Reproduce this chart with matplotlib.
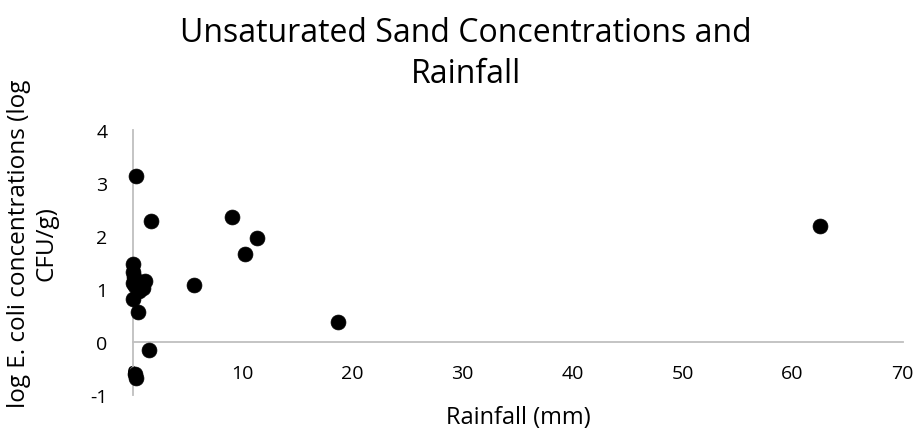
import matplotlib.pyplot as plt

plt.rcParams['font.family'] = ['Open Sans', 'DejaVu Sans']
plt.rcParams['axes.unicode_minus'] = False

# rainfall (mm) and log E. coli (log CFU/g)
rainfall = [0.3, 1.7, 9.0, 11.3, 10.2, 5.6, 62.5,
            0.05, 0.0, 0.1, 0.0, 0.2, 0.6, 0.9, 1.1, 0.0, 0.5,
            18.7, 1.5, 0.2, 0.35]
log_ecoli = [3.14, 2.29, 2.35, 1.97, 1.66, 1.08, 2.19,
             1.47, 1.33, 1.22, 1.12, 1.05, 0.97, 1.02, 1.16, 0.82, 0.56,
             0.37, -0.15, -0.60, -0.67]

x_ticks = [0, 10, 20, 30, 40, 50, 60, 70]
y_ticks = [-1, 0, 1, 2, 3, 4]

fig = plt.figure(figsize=(9.21, 4.31), dpi=100)
ax = fig.add_axes([0.144, 0.081, 0.836, 0.615])

ax.scatter(rainfall, log_ecoli, s=115, color='black', edgecolors='black',
           linewidths=0.5, zorder=3, clip_on=False)

ax.set_xlim(0, 70)
ax.set_ylim(-1, 4)
ax.set_xticks(x_ticks)
ax.set_yticks(y_ticks)
ax.tick_params(length=0, labelsize=14, labelcolor='black')
ax.tick_params(axis='x', pad=16)
ax.tick_params(axis='y', pad=18)

ax.spines['top'].set_visible(False)
ax.spines['right'].set_visible(False)
ax.spines['bottom'].set_position(('data', 0))
ax.spines['left'].set_position(('data', 0))
for side in ['bottom', 'left']:
    ax.spines[side].set_color('#bfbfbf')
    ax.spines[side].set_linewidth(1.3)

fig.text(518 / 921, 1 - 418 / 431, "Rainfall (mm)", ha='center', va='center',
         fontsize=17)

fig.text(32.5 / 921, 1 - 244 / 431, "log E. coli concentrations (log\nCFU/g)",
         rotation=90, ha='center', va='center', multialignment='center',
         fontsize=17.5, linespacing=1.2)

fig.text(466 / 921, 1 - 54 / 431, "Unsaturated Sand Concentrations and\nRainfall",
         ha='center', va='center', multialignment='center', fontsize=23,
         linespacing=1.3)

fig.savefig("out.png", dpi=100)
